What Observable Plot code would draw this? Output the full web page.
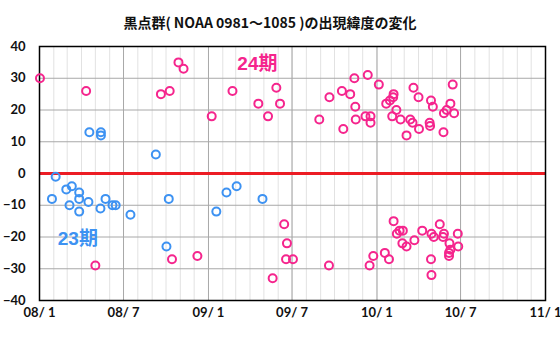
<!DOCTYPE html>
<html><head><meta charset="utf-8">
<script src="https://cdn.jsdelivr.net/npm/d3@7"></script>
<script src="https://cdn.jsdelivr.net/npm/@observablehq/plot@0.6"></script>
<style>
body{margin:0;background:#fff;}
#title{width:540px;height:36px;line-height:44px;text-align:center;font-family:"Noto Sans CJK JP",sans-serif;font-weight:bold;font-size:14px;color:#111;}
</style></head><body>
<div id="title">黒点群( NOAA 0981〜1085 )の出現緯度の変化</div>
<div id="chart"></div>
<script>
// Cycle 23 sunspot groups (date, latitude)
const c23Dates = ["2008-01-28","2008-02-05","2008-02-28","2008-03-11","2008-03-06","2008-03-27","2008-03-27","2008-03-27","2008-04-16","2008-04-18","2008-05-12","2008-05-13","2008-05-13","2008-05-23","2008-06-07","2008-06-14","2008-07-16","2008-09-09","2008-10-02","2008-10-07","2009-01-18","2009-02-09","2009-03-03","2009-04-28"];
const c23Lat   = [-8,-1,-5,-4,-10,-6,-8,-12,-9,13,-11,13,12,-8,-10,-10,-13,6,-23,-8,-12,-6,-4,-8];
// Cycle 24 sunspot groups (date, latitude)
const c24Dates = ["2008-01-02","2008-04-11","2008-05-01","2008-09-20","2008-10-09","2008-10-14","2008-10-28","2008-11-08","2008-12-08","2009-01-08","2009-02-22","2009-04-19","2009-05-10","2009-05-20","2009-05-28","2009-06-05","2009-06-14","2009-06-18","2009-06-20","2009-07-03","2009-08-29","2009-09-19","2009-09-20","2009-10-17","2009-10-20","2009-11-04","2009-11-13","2009-11-15","2009-11-16","2009-12-07","2009-12-12","2009-12-16","2009-12-18","2009-12-18","2009-12-24","2010-01-05","2010-01-18","2010-01-21","2010-01-27","2010-01-29","2010-02-03","2010-02-05","2010-02-06","2010-02-06","2010-02-12","2010-02-13","2010-02-19","2010-02-21","2010-02-25","2010-02-26","2010-03-06","2010-03-06","2010-03-14","2010-03-19","2010-03-21","2010-03-23","2010-04-01","2010-04-02","2010-04-09","2010-04-25","2010-04-26","2010-04-28","2010-04-28","2010-04-29","2010-04-29","2010-05-02","2010-05-04","2010-05-17","2010-05-24","2010-05-25","2010-05-26","2010-05-26","2010-06-01","2010-06-06","2010-06-06","2010-06-07","2010-06-09","2010-06-09","2010-06-14","2010-06-17","2010-06-25","2010-06-26"];
const c24Lat   = [30,26,-29,25,26,-27,35,33,-26,18,26,22,18,-33,27,22,-16,-27,-22,-27,17,-29,24,26,14,25,30,21,17,18,31,-29,18,16,-26,28,-25,22,-27,23,18,24,25,-15,20,-19,-18,17,-22,-18,12,-23,17,16,27,-21,24,14,-18,16,15,23,-27,-19,-32,21,-20,-16,-20,13,19,-19,20,-25,-26,-22,22,-24,28,19,-19,-23];
// Axis ticks
const yTicks = [-40,-30,-20,-10,0,10,20,30,40];
const xTickLabels = ["08/ 1","08/ 7","09/ 1","09/ 7","10/ 1","10/ 7","11/ 1"];
// Labels
const cycleLabels = ["23期","24期"];
const cycleLabelDates = ["2008-03-24","2009-04-17"];
const cycleLabelLat = [-20.6,34.6];

const parse = d3.utcParse("%Y-%m-%d");
const blue = "#3d92f2", pink = "#f5258d";
const c23 = c23Dates.map((d,i)=>({date:parse(d),lat:c23Lat[i]}));
const c24 = c24Dates.map((d,i)=>({date:parse(d),lat:c24Lat[i]}));
const x0 = parse("2008-01-01"), x1 = parse("2011-01-01");
const majorTicks = d3.utcMonth.every(6).range(x0, d3.utcDay.offset(x1,1));
const minorTicks = d3.utcMonth.range(x0, x1);
const labels = cycleLabels.map((t,i)=>({t,date:parse(cycleLabelDates[i]),lat:cycleLabelLat[i],c:i?pink:blue}));

const chart = Plot.plot({
  width: 560, height: 304,
  marginTop: 10, marginBottom: 40, marginLeft: 39, marginRight: 15,
  style: {fontFamily: "Lato, sans-serif", fontSize: "13px", fontWeight: "bold", color: "#111", background: "#fff"},
  x: {type: "utc", domain: [x0, x1], ticks: majorTicks, tickFormat: (d,i)=>xTickLabels[i], tickSize: 0, tickPadding: 7, label: null},
  y: {domain: [-40, 40], ticks: yTicks, tickSize: 0, tickPadding: 14, label: null},
  marks: [
    Plot.ruleX(minorTicks, {stroke: "#e2e2e2", strokeWidth: 1}),
    Plot.ruleX(majorTicks, {stroke: "#a8a8a8", strokeWidth: 1}),
    Plot.ruleY(yTicks, {stroke: "#a8a8a8", strokeWidth: 1}),
    Plot.ruleY([0], {stroke: "#ec1c24", strokeWidth: 3}),
    Plot.frame({stroke: "#000", strokeWidth: 1.5}),
    Plot.dot(c23, {x: "date", y: "lat", r: 4, stroke: blue, strokeWidth: 2, fill: "none"}),
    Plot.dot(c24, {x: "date", y: "lat", r: 4, stroke: pink, strokeWidth: 2, fill: "none"}),
    Plot.text(labels, {x: "date", y: "lat", text: "t", fill: "c", fontSize: 19, fontWeight: "bold", fontFamily: "Liberation Sans, Noto Sans CJK JP, sans-serif"})
  ]
});
document.getElementById("chart").appendChild(chart);
</script>
</body></html>
